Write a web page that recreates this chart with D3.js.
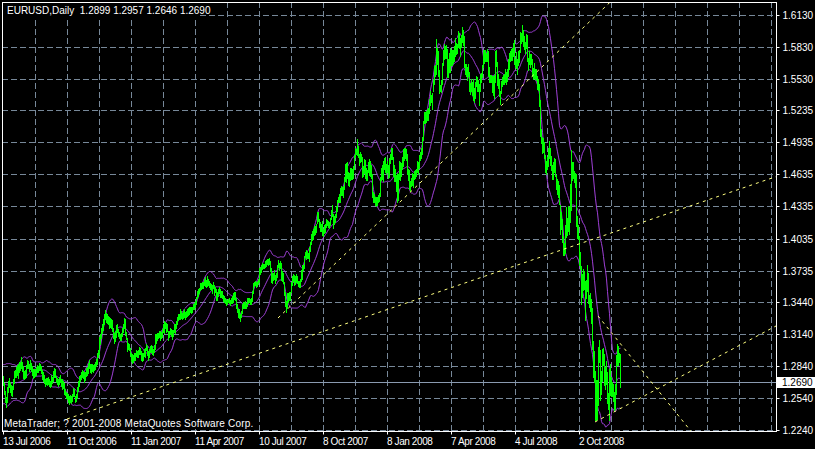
<!DOCTYPE html>
<html><head><meta charset="utf-8">
<script src="https://cdn.jsdelivr.net/npm/d3@7/dist/d3.min.js"></script>
<style>body{margin:0;background:#000;}svg{display:block;}</style>
</head><body>
<svg id="c" width="815" height="449"></svg>
<script>
// ---------- data ----------
const symbolTitle = "EURUSD,Daily";
const lastQuote = ["1.2899", "1.2957", "1.2646", "1.2690"];
const copyright = "MetaTrader; ? 2001-2008 MetaQuotes Software Corp.";
const warmup = 20; // bars before 13 Jul 2006 (off-screen, only feed the bands)
const lows = [
1.2560,1.2580,1.2560,1.2540,1.2560,1.2560,1.2520,1.2530,1.2530,1.2510,
1.2520,1.2700,1.2770,1.2780,1.2700,1.2720,1.2750,1.2720,1.2700,1.2680,
1.2660,1.2580,1.2500,1.2460,1.2500,1.2600,1.2640,1.2600,1.2570,1.2560,
1.2620,1.2680,1.2740,1.2740,1.2760,1.2730,1.2780,1.2800,1.2820,1.2790,
1.2730,1.2720,1.2730,1.2740,1.2820,1.2820,1.2790,1.2810,1.2790,1.2760,
1.2730,1.2740,1.2750,1.2760,1.2780,1.2780,1.2800,1.2800,1.2770,1.2720,
1.2700,1.2680,1.2650,1.2670,1.2660,1.2670,1.2650,1.2640,1.2650,1.2680,
1.2700,1.2740,1.2740,1.2690,1.2670,1.2650,1.2670,1.2690,1.2650,1.2620,
1.2630,1.2580,1.2570,1.2540,1.2530,1.2500,1.2484,1.2500,1.2490,1.2510,
1.2560,1.2560,1.2500,1.2510,1.2540,1.2610,1.2650,1.2700,1.2720,1.2740,
1.2730,1.2690,1.2710,1.2750,1.2760,1.2770,1.2820,1.2780,1.2770,1.2790,
1.2780,1.2800,1.2810,1.2840,1.2860,1.2920,1.2950,1.3050,1.3100,1.3150,
1.3180,1.3230,1.3280,1.3250,1.3240,1.3230,1.3200,1.3210,1.3200,1.3170,
1.3100,1.3060,1.3070,1.3110,1.3160,1.3120,1.3100,1.3080,1.3080,1.3120,
1.3160,1.3200,1.3130,1.3090,1.2980,1.3000,1.2990,1.2930,1.2890,1.2867,
1.2880,1.2900,1.2900,1.2930,1.2920,1.2920,1.2950,1.2950,1.2900,1.2890,
1.2900,1.2930,1.2920,1.2990,1.2940,1.2900,1.2920,1.2970,1.2970,1.2950,
1.2940,1.2970,1.3000,1.3060,1.3080,1.3100,1.3110,1.3080,1.3100,1.3110,
1.3160,1.3150,1.3200,1.3160,1.3170,1.3080,1.3110,1.3140,1.3120,1.3090,
1.3120,1.3160,1.3150,1.3200,1.3230,1.3270,1.3280,1.3280,1.3290,1.3280,
1.3290,1.3300,1.3280,1.3300,1.3310,1.3320,1.3330,1.3350,1.3340,1.3350,
1.3370,1.3370,1.3390,1.3420,1.3480,1.3500,1.3520,1.3550,1.3560,1.3570,
1.3570,1.3600,1.3590,1.3580,1.3590,1.3600,1.3580,1.3560,1.3550,1.3520,
1.3570,1.3510,1.3530,1.3460,1.3460,1.3500,1.3520,1.3490,1.3490,1.3480,
1.3450,1.3440,1.3430,1.3410,1.3420,1.3440,1.3430,1.3410,1.3430,1.3430,
1.3440,1.3470,1.3460,1.3380,1.3350,1.3300,1.3290,1.3266,1.3300,1.3340,
1.3380,1.3380,1.3380,1.3380,1.3400,1.3430,1.3440,1.3420,1.3420,1.3450,
1.3520,1.3590,1.3600,1.3580,1.3590,1.3610,1.3630,1.3700,1.3720,1.3750,
1.3760,1.3760,1.3770,1.3780,1.3800,1.3790,1.3800,1.3730,1.3630,1.3620,
1.3650,1.3660,1.3620,1.3650,1.3670,1.3770,1.3740,1.3760,1.3650,1.3640,
1.3620,1.3510,1.3400,1.3350,1.3380,1.3440,1.3460,1.3460,1.3530,1.3600,
1.3640,1.3600,1.3610,1.3630,1.3620,1.3590,1.3580,1.3580,1.3640,1.3660,
1.3740,1.3760,1.3860,1.3840,1.3850,1.3850,1.3820,1.3920,1.3980,1.4020,
1.4030,1.4070,1.4080,1.4100,1.4180,1.4200,1.4140,1.4110,1.4110,1.4070,
1.4060,1.4090,1.4100,1.4140,1.4160,1.4140,1.4130,1.4160,1.4220,1.4250,
1.4130,1.4170,1.4190,1.4240,1.4290,1.4380,1.4380,1.4380,1.4440,1.4440,
1.4420,1.4500,1.4570,1.4560,1.4600,1.4540,1.4530,1.4580,1.4590,1.4590,
1.4600,1.4690,1.4800,1.4830,1.4820,1.4800,1.4720,1.4750,1.4760,1.4610,
1.4620,1.4650,1.4600,1.4580,1.4580,1.4660,1.4630,1.4620,1.4600,1.4420,
1.4380,1.4380,1.4350,1.4340,1.4350,1.4380,1.4390,1.4430,1.4580,1.4590,
1.4570,1.4690,1.4660,1.4640,1.4660,1.4600,1.4610,1.4740,1.4780,1.4780,
1.4620,1.4570,1.4570,1.4480,1.4380,1.4400,1.4590,1.4580,1.4620,1.4690,
1.4710,1.4770,1.4790,1.4770,1.4640,1.4580,1.4500,1.4480,1.4530,1.4540,
1.4520,1.4590,1.4600,1.4620,1.4660,1.4640,1.4700,1.4770,1.4790,1.4830,
1.4960,1.5120,1.5120,1.5130,1.5150,1.5150,1.5210,1.5290,1.5310,1.5250,
1.5420,1.5480,1.5560,1.5580,1.5670,1.5560,1.5400,1.5420,1.5410,1.5480,
1.5660,1.5720,1.5730,1.5730,1.5550,1.5550,1.5600,1.5600,1.5660,1.5660,
1.5680,1.5700,1.5750,1.5760,1.5770,1.5830,1.5820,1.5750,1.5830,1.5880,
1.5850,1.5640,1.5580,1.5560,1.5520,1.5560,1.5420,1.5390,1.5420,1.5380,
1.5330,1.5310,1.5350,1.5460,1.5420,1.5420,1.5285,1.5420,1.5500,1.5550,
1.5640,1.5680,1.5700,1.5700,1.5700,1.5560,1.5500,1.5500,1.5500,1.5410,
1.5380,1.5350,1.5500,1.5650,1.5470,1.5450,1.5370,1.5300,1.5400,1.5460,
1.5480,1.5480,1.5500,1.5480,1.5510,1.5560,1.5620,1.5700,1.5710,1.5710,
1.5750,1.5670,1.5640,1.5630,1.5580,1.5660,1.5690,1.5780,1.5870,1.5890,
1.5840,1.5810,1.5770,1.5820,1.5700,1.5610,1.5670,1.5640,1.5670,1.5560,
1.5530,1.5540,1.5530,1.5520,1.5440,1.5430,1.5280,1.5000,1.4930,1.4840,
1.4850,1.4790,1.4660,1.4640,1.4690,1.4710,1.4790,1.4720,1.4680,1.4590,
1.4590,1.4660,1.4620,1.4500,1.4450,1.4420,1.4360,1.4080,1.4120,1.4000,
1.3880,1.3880,1.3900,1.4050,1.4070,1.4110,1.4080,1.4190,1.4300,1.4580,
1.4600,1.4560,1.4520,1.4150,1.4040,1.4030,1.3790,1.3750,1.3420,1.3490,
1.3550,1.3560,1.3270,1.3480,1.3540,1.3430,1.3390,1.3360,1.3240,1.3000,
1.2740,1.2690,1.2330,1.2330,1.2340,1.2470,1.2880,1.2520,1.2580,1.2700,
1.2850,1.2660,1.2620,1.2670,1.2490,1.2440,1.2330,1.2570,1.2560,1.2560,
1.2510,1.2430,1.2440,1.2580,1.2850,1.2850,1.2880,1.2646
];
const highs = [
1.2660,1.2670,1.2630,1.2610,1.2640,1.2620,1.2600,1.2590,1.2600,1.2580,
1.2700,1.2800,1.2830,1.2830,1.2790,1.2800,1.2830,1.2790,1.2790,1.2760,
1.2750,1.2680,1.2610,1.2550,1.2640,1.2700,1.2730,1.2690,1.2660,1.2650,
1.2720,1.2790,1.2800,1.2830,1.2850,1.2860,1.2880,1.2880,1.2920,1.2880,
1.2840,1.2790,1.2800,1.2850,1.2900,1.2890,1.2860,1.2900,1.2870,1.2840,
1.2810,1.2810,1.2810,1.2830,1.2850,1.2840,1.2870,1.2860,1.2840,1.2800,
1.2780,1.2760,1.2720,1.2730,1.2730,1.2740,1.2720,1.2700,1.2760,1.2740,
1.2790,1.2820,1.2810,1.2750,1.2730,1.2720,1.2740,1.2760,1.2720,1.2720,
1.2700,1.2680,1.2620,1.2600,1.2590,1.2580,1.2560,1.2570,1.2560,1.2580,
1.2630,1.2620,1.2560,1.2580,1.2640,1.2700,1.2750,1.2760,1.2780,1.2800,
1.2790,1.2780,1.2780,1.2820,1.2830,1.2870,1.2900,1.2860,1.2860,1.2860,
1.2850,1.2860,1.2880,1.2910,1.2960,1.2990,1.3110,1.3140,1.3200,1.3230,
1.3280,1.3330,1.3367,1.3340,1.3330,1.3310,1.3300,1.3290,1.3280,1.3270,
1.3200,1.3150,1.3170,1.3220,1.3230,1.3190,1.3160,1.3140,1.3150,1.3200,
1.3230,1.3290,1.3280,1.3160,1.3100,1.3060,1.3050,1.3010,1.2960,1.2950,
1.2940,1.2960,1.2960,1.2990,1.2980,1.2990,1.3020,1.3010,1.2980,1.2960,
1.2960,1.3000,1.3010,1.3050,1.3030,1.2980,1.3000,1.3030,1.3040,1.3030,
1.3000,1.3040,1.3140,1.3140,1.3150,1.3150,1.3170,1.3170,1.3160,1.3190,
1.3230,1.3260,1.3250,1.3240,1.3230,1.3170,1.3170,1.3200,1.3190,1.3180,
1.3180,1.3230,1.3230,1.3260,1.3300,1.3330,1.3330,1.3370,1.3360,1.3340,
1.3360,1.3370,1.3350,1.3360,1.3370,1.3380,1.3390,1.3390,1.3390,1.3390,
1.3420,1.3430,1.3450,1.3490,1.3540,1.3560,1.3570,1.3620,1.3620,1.3630,
1.3630,1.3660,1.3670,1.3650,1.3682,1.3660,1.3640,1.3620,1.3610,1.3600,
1.3630,1.3600,1.3580,1.3560,1.3530,1.3560,1.3580,1.3560,1.3540,1.3540,
1.3510,1.3500,1.3480,1.3470,1.3460,1.3470,1.3480,1.3460,1.3480,1.3500,
1.3520,1.3530,1.3530,1.3480,1.3420,1.3370,1.3370,1.3330,1.3360,1.3420,
1.3440,1.3440,1.3450,1.3430,1.3480,1.3480,1.3480,1.3470,1.3480,1.3540,
1.3620,1.3630,1.3640,1.3630,1.3640,1.3660,1.3760,1.3770,1.3790,1.3810,
1.3800,1.3800,1.3820,1.3830,1.3840,1.3840,1.3850,1.3820,1.3760,1.3710,
1.3710,1.3740,1.3690,1.3710,1.3790,1.3830,1.3810,1.3820,1.3810,1.3730,
1.3710,1.3630,1.3530,1.3450,1.3520,1.3520,1.3530,1.3530,1.3630,1.3680,
1.3700,1.3690,1.3680,1.3700,1.3680,1.3640,1.3640,1.3660,1.3740,1.3790,
1.3790,1.3870,1.3910,1.3930,1.3920,1.3900,1.3960,1.4000,1.4080,1.4110,
1.4120,1.4150,1.4150,1.4170,1.4280,1.4280,1.4220,1.4190,1.4170,1.4200,
1.4120,1.4160,1.4170,1.4220,1.4210,1.4200,1.4190,1.4230,1.4300,1.4350,
1.4260,1.4250,1.4260,1.4340,1.4400,1.4420,1.4450,1.4510,1.4530,1.4520,
1.4530,1.4610,1.4730,1.4740,1.4750,1.4660,1.4650,1.4700,1.4700,1.4690,
1.4710,1.4820,1.4880,1.4870,1.4967,1.4900,1.4830,1.4850,1.4830,1.4800,
1.4710,1.4780,1.4770,1.4700,1.4680,1.4750,1.4780,1.4760,1.4720,1.4640,
1.4470,1.4450,1.4420,1.4420,1.4420,1.4440,1.4460,1.4610,1.4700,1.4720,
1.4760,1.4790,1.4800,1.4730,1.4760,1.4720,1.4790,1.4830,1.4880,1.4880,
1.4800,1.4720,1.4690,1.4630,1.4650,1.4640,1.4760,1.4750,1.4740,1.4800,
1.4870,1.4880,1.4880,1.4870,1.4830,1.4690,1.4680,1.4570,1.4600,1.4650,
1.4640,1.4670,1.4680,1.4690,1.4760,1.4750,1.4820,1.4850,1.4880,1.4990,
1.5140,1.5220,1.5220,1.5230,1.5250,1.5260,1.5340,1.5420,1.5380,1.5400,
1.5530,1.5650,1.5660,1.5904,1.5820,1.5790,1.5610,1.5470,1.5520,1.5680,
1.5800,1.5860,1.5840,1.5850,1.5810,1.5720,1.5770,1.5820,1.5800,1.5800,
1.5800,1.5840,1.5910,1.5870,1.5860,1.5980,1.5960,1.5910,1.5940,1.6018,
1.5990,1.5930,1.5670,1.5670,1.5640,1.5670,1.5600,1.5490,1.5530,1.5500,
1.5530,1.5450,1.5500,1.5560,1.5550,1.5520,1.5480,1.5580,1.5590,1.5660,
1.5800,1.5800,1.5800,1.5770,1.5810,1.5790,1.5640,1.5570,1.5570,1.5560,
1.5560,1.5570,1.5790,1.5800,1.5690,1.5580,1.5530,1.5420,1.5510,1.5550,
1.5570,1.5580,1.5620,1.5600,1.5620,1.5720,1.5770,1.5790,1.5810,1.5820,
1.5870,1.5900,1.5720,1.5780,1.5720,1.5790,1.5800,1.5970,1.5960,1.6038,
1.5990,1.5930,1.5880,1.5950,1.5940,1.5730,1.5790,1.5760,1.5760,1.5720,
1.5630,1.5680,1.5620,1.5620,1.5560,1.5530,1.5480,1.5330,1.5060,1.4990,
1.4980,1.4940,1.4820,1.4760,1.4800,1.4880,1.4950,1.4880,1.4810,1.4720,
1.4750,1.4790,1.4780,1.4630,1.4590,1.4570,1.4540,1.4350,1.4280,1.4220,
1.4060,1.3990,1.4160,1.4330,1.4230,1.4340,1.4330,1.4550,1.4867,1.4750,
1.4750,1.4670,1.4650,1.4640,1.4250,1.4160,1.4060,1.3910,1.3780,1.3700,
1.3750,1.3730,1.3640,1.3650,1.3790,1.3710,1.3510,1.3520,1.3470,1.3380,
1.3070,1.2980,1.2790,1.2710,1.2710,1.3020,1.3080,1.2990,1.2790,1.3000,
1.3010,1.2950,1.2830,1.2890,1.2780,1.2590,1.2810,1.2860,1.2740,1.2690,
1.2670,1.2600,1.2670,1.2940,1.3050,1.3030,1.2960,1.2957
];
const dateTickIndex = [0, 64, 128, 192, 256, 320, 384, 448, 512, 576];
const dateTickLabels = ["13 Jul 2006", "11 Oct 2006", "11 Jan 2007", "11 Apr 2007", "10 Jul 2007",
                        "8 Oct 2007", "8 Jan 2008", "7 Apr 2008", "4 Jul 2008", "2 Oct 2008"];
const priceTicks = [1.6130, 1.5830, 1.5530, 1.5235, 1.4935, 1.4635, 1.4335, 1.4035,
                    1.3735, 1.3440, 1.3140, 1.2840, 1.2540, 1.2240];
const currentPrice = 1.2690;
// trend lines: [bar1, price1, bar2, price2] (drawn as rays to the right)
const trendLines = [
  [64, 1.2343, 769, 1.4602],
  [275, 1.3290, 602, 1.6205],
  [592, 1.2315, 773, 1.3215],
  [595, 1.3309, 687, 1.2240]
];
const bandPeriod = 20, bandDeviation = 2;

// ---------- chart ----------
const W = 815, H = 449;
const frame = {x0: 2, y0: 2, x1: 776, y1: 431};
const svg = d3.select("#c");
const x = d3.scaleLinear().domain([0, 773]).range([3, 776]);
const y = d3.scaleLinear().domain([1.2240, 1.6130]).range([430, 15]);
const FONT = "'Liberation Sans', Arial, sans-serif";
const GRID = "#778899";

svg.append("rect").attr("width", W).attr("height", H).attr("fill", "#000");
svg.append("defs").append("clipPath").attr("id", "clip")
  .append("rect").attr("x", frame.x0 + 1).attr("y", frame.y0 + 1)
  .attr("width", frame.x1 - frame.x0 - 1).attr("height", frame.y1 - frame.y0 - 1);

const grid = svg.append("g").attr("stroke", GRID).attr("stroke-dasharray", "6,3").attr("shape-rendering", "crispEdges");
grid.selectAll("line.h").data(priceTicks).join("line").attr("class", "h")
  .attr("x1", frame.x0).attr("x2", frame.x1)
  .attr("y1", d => Math.round(y(d)) + 0.5).attr("y2", d => Math.round(y(d)) + 0.5);
grid.selectAll("line.v").data(d3.range(32, 773, 32)).join("line").attr("class", "v")
  .attr("x1", d => x(d) + 0.5).attr("x2", d => x(d) + 0.5)
  .attr("y1", frame.y0).attr("y2", frame.y1);

// text backgrounds
svg.append("rect").attr("x", 3).attr("y", 3).attr("width", 196).attr("height", 16).attr("fill", "#000");
svg.append("rect").attr("x", 3).attr("y", 416).attr("width", 252).attr("height", 13).attr("fill", "#000");

const plot = svg.append("g").attr("clip-path", "url(#clip)");

// current price line
plot.append("line").attr("x1", frame.x0).attr("x2", frame.x1)
  .attr("y1", Math.round(y(currentPrice)) + 0.5).attr("y2", Math.round(y(currentPrice)) + 0.5)
  .attr("stroke", "#8a9ab0").attr("shape-rendering", "crispEdges");

// Bollinger bands (period 20, dev 2) on median price
const mids = highs.map((h, i) => (h + lows[i]) / 2);
const up = [], mid = [], lo = [];
for (let j = bandPeriod - 1; j < mids.length; j++) {
  const w = mids.slice(j - bandPeriod + 1, j + 1);
  const m = d3.mean(w);
  const sd = Math.sqrt(d3.mean(w, v => (v - m) * (v - m)));
  const i = j - warmup;
  up.push([i, m + bandDeviation * sd]); mid.push([i, m]); lo.push([i, m - bandDeviation * sd]);
}
const bandLine = d3.line().x(d => x(d[0]) + 0.5).y(d => y(d[1]));
[up, mid, lo].forEach(s => plot.append("path").attr("d", bandLine(s))
  .attr("fill", "none").attr("stroke", "#a040d8").attr("stroke-width", 1));

// bars
const idx = d3.range(warmup, highs.length);
plot.append("g").attr("fill", "#00ff00").attr("shape-rendering", "crispEdges")
  .selectAll("rect").data(idx).join("rect")
  .attr("x", j => x(j - warmup)).attr("width", 1)
  .attr("y", j => Math.round(y(highs[j])))
  .attr("height", j => Math.max(1, Math.round(y(lows[j])) - Math.round(y(highs[j])) + 1));

// trend lines (rays)
trendLines.forEach(([b1, p1, b2, p2]) => {
  const xa = x(b1), ya = y(p1), xb = x(b2), yb = y(p2);
  const s = (yb - ya) / (xb - xa);
  const xe = frame.x1, ye = ya + s * (xe - xa);
  plot.append("line").attr("x1", xa).attr("y1", ya).attr("x2", xe).attr("y2", ye)
    .attr("stroke", "#ffff80").attr("stroke-dasharray", "3,4");
});

// frame
svg.append("rect").attr("x", frame.x0 + 0.5).attr("y", frame.y0 + 0.5)
  .attr("width", frame.x1 - frame.x0).attr("height", frame.y1 - frame.y0)
  .attr("fill", "none").attr("stroke", "#fff").attr("shape-rendering", "crispEdges");

// price axis
const ya = svg.append("g").attr("transform", `translate(${frame.x1 + 0.5},0)`)
  .call(d3.axisRight(y).tickValues(priceTicks).tickFormat(d3.format(".4f")).tickSize(3).tickPadding(3));
ya.select(".domain").remove();
ya.selectAll(".tick").attr("transform", d => `translate(0,${Math.round(y(d)) + 0.5})`);
ya.selectAll("line").attr("stroke", "#fff");
ya.selectAll("text").attr("fill", "#fff").style("font-family", FONT).style("font-size", "10px");

// current price label
const cy = Math.round(y(currentPrice));
svg.append("rect").attr("x", frame.x1).attr("y", cy - 5).attr("width", 39).attr("height", 11).attr("fill", "#fff");
svg.append("text").attr("x", frame.x1 + 6).attr("y", cy + 4).text(d3.format(".4f")(currentPrice))
  .attr("fill", "#000").style("font-family", FONT).style("font-size", "10px");

// date axis
const xa = svg.append("g").attr("transform", `translate(0,${frame.y1 + 0.5})`)
  .call(d3.axisBottom(x).tickValues(dateTickIndex).tickFormat((d, i) => dateTickLabels[i]).tickSize(3));
xa.select(".domain").remove();
xa.selectAll(".tick").attr("transform", d => `translate(${x(d) + 0.5},0)`);
xa.selectAll("line").attr("stroke", "#fff");
xa.selectAll("text").attr("fill", "#fff").attr("text-anchor", "start").attr("x", -0.5)
  .attr("y", 13).attr("dy", null).style("font-family", FONT).style("font-size", "10px")
  .style("letter-spacing", "-0.4px");

// title & copyright
svg.append("text").attr("x", 7).attr("y", 14).attr("fill", "#fff").style("font-family", FONT)
  .style("font-size", "10px").style("white-space", "pre")
  .text(symbolTitle + "  " + lastQuote.join(" "));
svg.append("text").attr("x", 4).attr("y", 427).attr("fill", "#fff").style("font-family", FONT)
  .style("font-size", "10px").style("letter-spacing", "0.2px").text(copyright);
</script>
</body></html>
